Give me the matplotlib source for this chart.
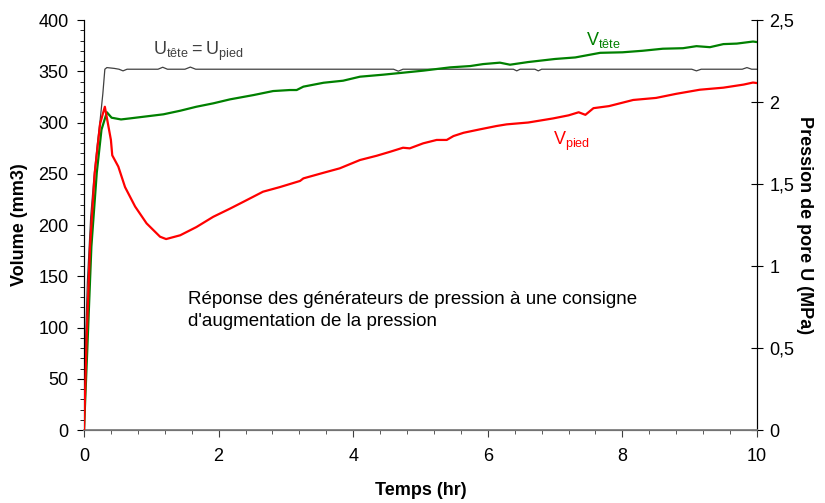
import matplotlib
matplotlib.use('Agg')
import matplotlib.pyplot as plt
from matplotlib.ticker import MultipleLocator, FuncFormatter

plt.rcParams['font.family'] = ['Liberation Sans', 'DejaVu Sans']
plt.rcParams['mathtext.fontset'] = 'custom'
plt.rcParams['mathtext.rm'] = 'Liberation Sans'

# volume at the top generator (mm3)
t_tete = [0, 0.05, 0.11, 0.19, 0.26, 0.34, 0.41, 0.55, 0.68, 0.93, 1.18, 1.43, 1.67, 1.92,
          2.17, 2.52, 2.81, 3.06, 3.16, 3.26, 3.56, 3.85, 4.10, 4.45, 4.74, 5.04, 5.44,
          5.74, 5.93, 6.18, 6.33, 6.6, 7.0, 7.3, 7.67, 8.0, 8.3, 8.6, 8.9, 9.1, 9.3,
          9.5, 9.7, 9.94, 10.0]
v_tete = [0, 80, 179, 251, 293, 310, 304.7, 303, 304, 306, 308, 311.5, 315.4, 318.7,
          322.6, 326.8, 330.7, 331.7, 331.7, 335, 338.8, 340.8, 344.7, 346.7, 348.6, 350.6,
          353.8, 355.1, 357, 358.4, 356.4, 359, 362, 363.5, 368, 368.5, 370, 372, 372.5,
          374.5, 373.5, 376.5, 377, 379, 378.5]

# volume at the bottom generator (mm3)
t_pied = [0, 0.04, 0.09, 0.16, 0.24, 0.31, 0.40, 0.42, 0.51, 0.61, 0.76, 0.93, 1.13,
          1.22, 1.43, 1.67, 1.92, 2.17, 2.37, 2.66, 2.91, 3.21, 3.26, 3.56, 3.80, 4.10,
          4.35, 4.55, 4.74, 4.84, 5.04, 5.24, 5.39, 5.49, 5.64, 5.88, 6.13, 6.28, 6.6,
          6.97, 7.2, 7.35, 7.45, 7.57, 7.8, 8.16, 8.5, 8.8, 9.15, 9.5, 9.8, 9.94, 10.0]
v_pied = [0, 90, 179, 251, 299, 315.4, 283, 268, 257, 237, 218, 201.6, 188.6, 186.3,
          190, 198, 208, 216, 222.7, 232.5, 237, 243, 245.5, 251, 255.3, 263.4, 267.6,
          271.5, 275.4, 274.8, 279.7, 283, 283, 286.8, 290, 293.3, 296.6, 298.2, 300,
          304, 307, 310, 307.5, 314, 316, 322, 324, 328, 332, 334, 337, 339, 338.5]

# pore pressure, top = bottom (MPa)
t_u = [0, 0.02, 0.05, 0.1, 0.15, 0.2, 0.24, 0.28, 0.31, 0.34, 0.45, 0.52, 0.58, 0.64,
       0.8, 1.1, 1.17, 1.24, 1.5, 1.58, 1.66, 2.5, 4.6, 4.67, 4.74, 6.38, 6.43, 6.48,
       6.7, 6.75, 6.8, 9.03, 9.1, 9.17, 9.78, 9.85, 9.92, 10.0]
u = [0, 0.5, 0.9, 1.3, 1.55, 1.75, 1.89, 2.05, 2.2, 2.21, 2.205, 2.2, 2.19, 2.2,
     2.2, 2.2, 2.212, 2.2, 2.2, 2.213, 2.2, 2.2, 2.2, 2.188, 2.2, 2.2, 2.19, 2.2,
     2.2, 2.19, 2.2, 2.2, 2.19, 2.2, 2.2, 2.21, 2.2, 2.2]

fig = plt.figure(figsize=(8.25, 5.03), dpi=100)
ax = fig.add_axes([0.1018, 0.1451, 0.8158, 0.8151])
ax2 = ax.twinx()

ax.plot(t_tete, v_tete, color='#008000', lw=1.6, zorder=3)
ax.plot(t_pied, v_pied, color='#ff0000', lw=1.6, zorder=3)
ax2.plot(t_u, u, color='#404040', lw=0.9)

ax.set_zorder(ax2.get_zorder() + 1)
ax.patch.set_visible(False)

ax.set_xlim(0, 10)
ax.set_ylim(0, 400)
ax2.set_ylim(0, 2.5)

ax.xaxis.set_major_locator(MultipleLocator(2))
ax.xaxis.set_minor_locator(MultipleLocator(0.4))
ax.yaxis.set_major_locator(MultipleLocator(50))
ax.yaxis.set_minor_locator(MultipleLocator(10))
ax2.yaxis.set_major_locator(MultipleLocator(0.5))
ax2.yaxis.set_major_formatter(FuncFormatter(lambda v, p: ('%g' % v).replace('.', ',')))

ax.tick_params(axis='both', which='major', direction='out', length=5, labelsize=13, pad=6)
ax.tick_params(axis='x', which='major', pad=8)
ax.tick_params(axis='both', which='minor', direction='out', length=3)
ax2.tick_params(axis='y', which='major', direction='inout', length=8, labelsize=13, pad=5)

ax.spines['top'].set_visible(False)
ax2.spines['top'].set_visible(False)
ax.spines['bottom'].set_color('#808080')
ax.spines['bottom'].set_linewidth(1.3)
ax.tick_params(axis='x', which='both', color='#404040')

ax.set_xlabel('Temps (hr)', fontsize=13, fontweight='bold')
ax.set_ylabel('Volume (mm3)', fontsize=13, fontweight='bold')
ax2.set_ylabel('Pression de pore U (MPa)', fontsize=13, fontweight='bold', rotation=270)
ax.xaxis.set_label_coords(0.5, -0.127)
ax.yaxis.set_label_coords(-0.083, 0.5)
ax2.yaxis.set_label_coords(1.083, 0.5)

ax.text(1.03, 366, r'$\mathregular{U_{tête} = U_{pied}}$', fontsize=13, color='#404040')
ax.text(7.46, 375.6, r'$\mathregular{V_{tête}}$', fontsize=13, color='#008000')
ax.text(6.97, 278, r'$\mathregular{V_{pied}}$', fontsize=13, color='#ff0000')
ax.text(1.545, 101.5, "Réponse des générateurs de pression à une consigne\nd'augmentation de la pression",
        fontsize=13.5, color='black', linespacing=1.4)

fig.savefig('out.png', dpi=100)
